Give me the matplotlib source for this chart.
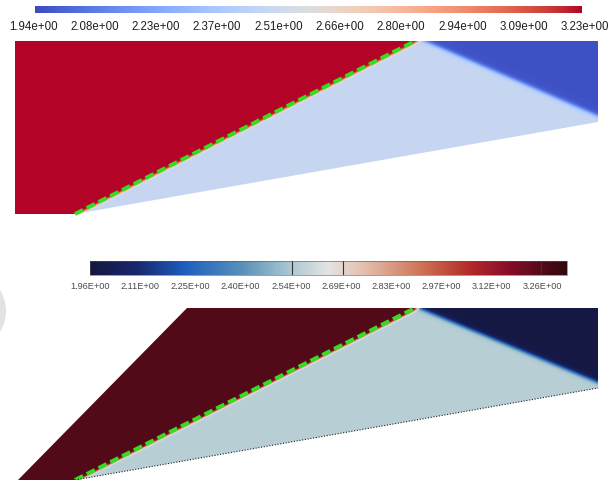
import numpy as np
import matplotlib
matplotlib.use("Agg")
import matplotlib.pyplot as plt
from matplotlib.colors import LinearSegmentedColormap, Normalize
from matplotlib.colorbar import ColorbarBase
from matplotlib.patches import Polygon, Circle

plt.rcParams['font.family'] = ['Liberation Sans', 'DejaVu Sans']
plt.rcParams['lines.scale_dashes'] = False

W, H = 614, 481

# --- upper field (simulation) ---
top_range = (1.94, 3.23)
top_labels = ["1.94e+00", "2.08e+00", "2.23e+00", "2.37e+00", "2.51e+00",
              "2.66e+00", "2.80e+00", "2.94e+00", "3.09e+00", "3.23e+00"]
top_domain = [(15, 42), (598, 42), (598, 123), (75, 215), (15, 215)]
top_shock = [(75, 215), (415, 42)]
top_fan = [(425, 42), (598, 117)]
top_values = {"upstream": 3.23, "wedge": 2.48, "fan": 1.96}

# --- lower field (reference) ---
bot_range = (1.96, 3.26)
bot_labels = ["1.96E+00", "2.11E+00", "2.25E+00", "2.40E+00", "2.54E+00",
              "2.69E+00", "2.83E+00", "2.97E+00", "3.12E+00", "3.26E+00"]
bot_marks = [2.51, 2.65, 3.19]
bot_domain = [(187, 309), (598, 309), (598, 389), (75, 481), (18, 481)]
bot_shock = [(75, 481), (415, 309)]
bot_fan = [(420, 309), (598, 383)]
bot_values = {"upstream": 3.19, "wedge": 2.53, "fan": 1.98}

cool_warm_ext = LinearSegmentedColormap.from_list("cw_ext", [
    (0.00, (20/255, 22/255, 62/255)),
    (0.10, (24/255, 40/255, 110/255)),
    (0.20, (30/255, 95/255, 190/255)),
    (0.32, (90/255, 145/255, 185/255)),
    (0.42, (170/255, 200/255, 210/255)),
    (0.50, (228/255, 228/255, 226/255)),
    (0.58, (226/255, 188/255, 170/255)),
    (0.70, (205/255, 112/255, 82/255)),
    (0.80, (178/255, 40/255, 40/255)),
    (0.88, (135/255, 12/255, 42/255)),
    (0.95, (82/255, 10/255, 24/255)),
    (1.00, (50/255, 6/255, 12/255)),
])


def fig_box(x0, y0, x1, y1):
    return [x0 / W, 1 - y1 / H, (x1 - x0) / W, (y1 - y0) / H]


def side(X, Y, line):
    (x0, y0), (x1, y1) = line
    dx, dy = x1 - x0, y1 - y0
    return (dx * (Y - y0) - dy * (X - x0)) / np.hypot(dx, dy)


def field(domain, shock, fan, vals, w_shock=1.2, w_fan=2.5, offset=-1.8):
    xs = np.array([p[0] for p in domain])
    ys = np.array([p[1] for p in domain])
    x = np.arange(xs.min(), xs.max() + 0.5, 0.5)
    y = np.arange(ys.min(), ys.max() + 0.5, 0.5)
    X, Y = np.meshgrid(x, y)
    s1 = 0.5 * (1 - np.tanh((side(X, Y, shock) + offset) / w_shock))
    s2 = 0.5 * (1 + np.tanh(-side(X, Y, fan) / w_fan))
    v = vals["upstream"] * s1 + vals["wedge"] * (1 - s1)
    v = v * (1 - s2) + vals["fan"] * s2
    return v, (x[0], x[-1], y[-1], y[0])


fig = plt.figure(figsize=(W / 100, H / 100), dpi=100)
ax = fig.add_axes([0, 0, 1, 1])
ax.set_xlim(0, W)
ax.set_ylim(H, 0)
ax.set_axis_off()

panels = [
    (top_domain, top_shock, top_fan, top_values, "coolwarm", top_range),
    (bot_domain, bot_shock, bot_fan, bot_values, cool_warm_ext, bot_range),
]
for domain, shock, fan, vals, cmap, (vmin, vmax) in panels:
    v, ext = field(domain, shock, fan, vals)
    im = ax.imshow(v, extent=ext, origin="upper", cmap=cmap, vmin=vmin,
                   vmax=vmax, interpolation="bilinear", aspect="auto")
    patch = Polygon(domain, closed=True, fc="none", ec="none")
    ax.add_patch(patch)
    im.set_clip_path(patch)
    # shock position
    sx, sy = zip(*shock)
    ax.plot(sx, sy, color="#35dc1f", lw=2.8, dashes=(6.5, 3.0),
            solid_capstyle="butt", dash_capstyle="butt")

# ramp wall of the lower panel
rx = [bot_domain[3][0], bot_domain[2][0]]
ry = [bot_domain[3][1], bot_domain[2][1]]
ax.plot(rx, ry, color="#222222", lw=0.8, dashes=(0.8, 1.2))

# ui button on the left edge
ax.add_patch(Circle((-33, 312), 39, fc="#e2e2e2", ec="none"))

# colour bars
cax = fig.add_axes(fig_box(35, 7, 582, 14))
cb = ColorbarBase(cax, cmap=plt.get_cmap("coolwarm"),
                  norm=Normalize(*top_range), orientation="horizontal")
cax.set_xticks([])
cb.outline.set_visible(False)

lab = fig.add_axes(fig_box(33, 20, 585, 21))
lab.set_xlim(*top_range)
lab.set_xticks(np.linspace(*top_range, len(top_labels)), top_labels)
lab.tick_params(length=0, pad=0, labelsize=8.3, labelcolor="#1e1e1e")
lab.set_yticks([])
for s in lab.spines.values():
    s.set_visible(False)
lab.patch.set_alpha(0)

cax2 = fig.add_axes(fig_box(90, 262, 567, 276))
cb2 = ColorbarBase(cax2, cmap=cool_warm_ext, norm=Normalize(*bot_range),
                   orientation="horizontal")
cax2.set_xticks([])
cb2.outline.set_linewidth(0.4)
cb2.outline.set_edgecolor("#555555")
for m in bot_marks:
    cax2.axvline(m, color="#333333", lw=0.8)

lab2 = fig.add_axes(fig_box(90, 281, 542, 282))
lab2.set_xlim(*bot_range)
lab2.set_xticks(np.linspace(*bot_range, len(bot_labels)), bot_labels)
lab2.tick_params(length=0, pad=0, labelsize=6.6, labelcolor="#4a4a4a")
lab2.set_yticks([])
for s in lab2.spines.values():
    s.set_visible(False)
lab2.patch.set_alpha(0)

fig.savefig("out.png", dpi=100)
